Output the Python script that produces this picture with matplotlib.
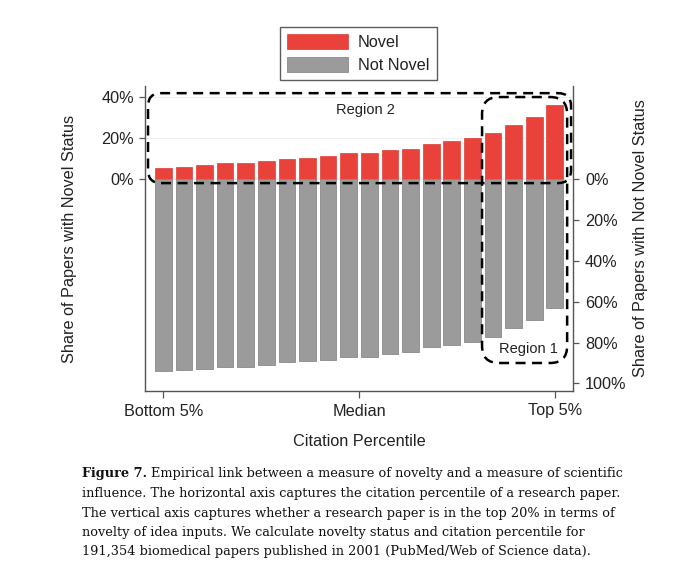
import matplotlib
matplotlib.use('Agg')
import matplotlib.pyplot as plt
from matplotlib.patches import FancyBboxPatch
from matplotlib.transforms import IdentityTransform

# ---------------- data ----------------
bins = list(range(1, 21))
novel = [5.3, 6.0, 7.0, 7.9, 7.9, 8.7, 10.0, 10.4, 11.2, 12.5,
         12.8, 14.3, 14.9, 17.3, 18.5, 20.1, 22.5, 26.4, 30.4, 36.4]
not_novel = [93.9, 93.6, 92.8, 91.8, 91.8, 90.8, 89.5, 89.2, 88.4, 87.3,
             87.0, 85.4, 84.7, 82.1, 81.0, 79.5, 77.1, 73.1, 69.2, 63.0]
xtick_pos = [1, 10.5, 20]
xtick_labels = ['Bottom 5%', 'Median', 'Top 5%']
left_ticks = [0, 20, 40]
right_ticks = [0, 20, 40, 60, 80, 100]
series_labels = ['Novel', 'Not Novel']
caption_bold = 'Figure 7.'
caption_lines = [
    'Empirical link between a measure of novelty and a measure of scientific',
    'influence. The horizontal axis captures the citation percentile of a research paper.',
    'The vertical axis captures whether a research paper is in the top 20% in terms of',
    'novelty of idea inputs. We calculate novelty status and citation percentile for',
    '191,354 biomedical papers published in 2001 (PubMed/Web of Science data).',
]

# ---------------- style ----------------
plt.rcParams['font.family'] = ['Liberation Sans', 'DejaVu Sans']
RED = '#e8423b'
GRAY = '#9b9b9b'
SPINE = '#555555'
TXT = '#222222'
FS = 11.7
W, H = 680, 576

fig = plt.figure(figsize=(W / 100, H / 100), dpi=100)
ax = fig.add_axes([145 / W, 1 - 391 / H, 427.5 / W, 305 / H])

b1 = ax.bar(bins, novel, width=0.81, color=RED, edgecolor='#dd3d36', linewidth=0.5,
            label=series_labels[0], zorder=2)
b2 = ax.bar(bins, [-v for v in not_novel], width=0.81, color=GRAY, edgecolor='#8a8a8a',
            linewidth=0.6, label=series_labels[1], zorder=2)

ax.set_xlim(0.11, 20.86)
ax.set_ylim(-103.7, 45.5)
ax.grid(axis='y', color='#efefef', linewidth=0.8, zorder=0)
ax.set_axisbelow(True)

ax.set_yticks(left_ticks, [f'{t}%' for t in left_ticks])
ax.set_xticks(xtick_pos, xtick_labels)
for s in ['top', 'right']:
    ax.spines[s].set_visible(False)
for s in ['left', 'bottom']:
    ax.spines[s].set_color(SPINE)
    ax.spines[s].set_linewidth(1.0)
ax.tick_params(axis='y', direction='out', length=4, width=0.9, color=SPINE,
               labelsize=FS, labelcolor=TXT, pad=4)
ax.tick_params(axis='x', direction='out', length=5, width=0.9, color=SPINE,
               labelsize=FS, labelcolor=TXT, pad=4)

ax2 = ax.twinx()
ax2.set_ylim(ax.get_ylim())
ax2.set_yticks([-t for t in right_ticks], [f'{t}%' for t in right_ticks])
for s in ['top', 'left', 'bottom']:
    ax2.spines[s].set_visible(False)
ax2.spines['right'].set_color(SPINE)
ax2.spines['right'].set_linewidth(1.0)
ax2.tick_params(axis='y', direction='out', length=4, width=0.9, color=SPINE,
                labelsize=FS, labelcolor=TXT, pad=5)

# axis titles
fig.text(70 / W, 1 - 239 / H, 'Share of Papers with Novel Status', rotation=90,
         ha='center', va='center', fontsize=FS, color=TXT)
fig.text(640 / W, 1 - 238 / H, 'Share of Papers with Not Novel Status', rotation=90,
         ha='center', va='center', fontsize=FS, color=TXT)
fig.text(359 / W, 1 - 442 / H, 'Citation Percentile', ha='center', va='center',
         fontsize=FS, color=TXT)

# legend
leg = fig.legend(handles=[b1, b2], labels=series_labels, loc='upper center',
                 bbox_to_anchor=(358.5 / W, 1 - 27 / H), ncol=1, fontsize=FS,
                 frameon=True, fancybox=False, edgecolor='#333333',
                 handlelength=3.7, handleheight=1.0, handletextpad=0.65,
                 labelspacing=0.42, borderpad=0.45, borderaxespad=0)
leg.get_frame().set_linewidth(1.0)
for t in leg.get_texts():
    t.set_color(TXT)

# region boxes (dashed rounded rectangles)
def rbox(x0, y0, x1, y1, r):
    px0, py0 = ax.transData.transform((x0, y0))
    px1, py1 = ax.transData.transform((x1, y1))
    p = FancyBboxPatch((min(px0, px1), min(py0, py1)), abs(px1 - px0), abs(py1 - py0),
                       boxstyle=f'round,pad=0,rounding_size={r}',
                       transform=IdentityTransform(), fill=False, edgecolor='black',
                       linewidth=1.8, linestyle=(0, (4, 2.6)), clip_on=False, zorder=5)
    fig.add_artist(p)

rbox(0.257, 42.0, 20.79, -2.0, 13)
rbox(16.47, 40.1, 20.6, -90.0, 17)
ax.text(10.79, 33.7, 'Region 2', ha='center', va='center', fontsize=10.5, color=TXT)
ax.text(18.7, -83.1, 'Region 1', ha='center', va='center', fontsize=10.5, color=TXT)

# caption
renderer = fig.canvas.get_renderer()
CAP_FONT = ['DejaVu Serif']
test = fig.text(0, 0, caption_bold + ' ' + caption_lines[0], fontsize=10,
                family=CAP_FONT)
wt = test.get_window_extent(renderer).width
test.remove()
cfs = 10 * 537 / wt
x0 = 82
ys = [474, 493.5, 513, 532.5, 552]
tb = fig.text(x0 / W, 1 - ys[0] / H, caption_bold, fontsize=cfs, family=CAP_FONT,
              weight='bold', ha='left', va='center', color='#111111')
wb = tb.get_window_extent(renderer).width
sp = cfs * 0.32 * 100 / 72
fig.text((x0 + wb + sp) / W, 1 - ys[0] / H, caption_lines[0], fontsize=cfs,
         family=CAP_FONT, ha='left', va='center', color='#111111')
for line, y in zip(caption_lines[1:], ys[1:]):
    fig.text(x0 / W, 1 - y / H, line, fontsize=cfs, family=CAP_FONT, ha='left',
             va='center', color='#111111')

fig.savefig('out.png', dpi=100, facecolor='white')
